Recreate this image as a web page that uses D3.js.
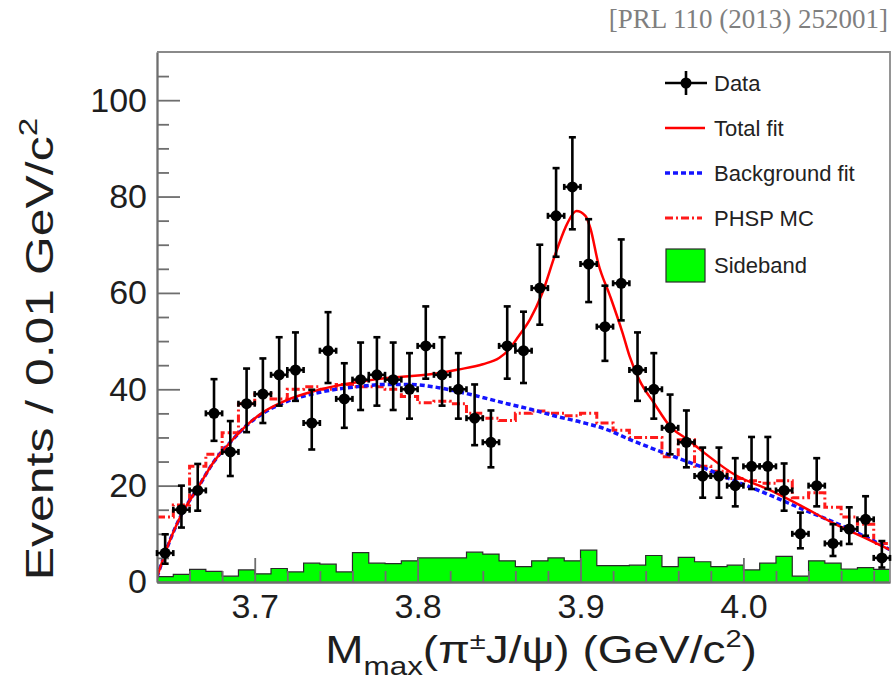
<!DOCTYPE html>
<html>
<head>
<meta charset="utf-8">
<script src="https://cdn.jsdelivr.net/npm/d3@7"></script>
<style>
  body { margin: 0; background: #fff; }
  text { font-family: "Liberation Sans", Arial, Helvetica, sans-serif; }
</style>
</head>
<body>
<div id="container"></div>
<script>
/* CONSTANTS AND GLOBALS */
const width = 892,
  height = 684;
const plotLeft = 157, plotRight = 890, plotTop = 52, plotBottom = 582;
const binWidth = 0.01;

/* DATA */
const massBins = [3.645, 3.655, 3.665, 3.675, 3.685, 3.695, 3.705, 3.715, 3.725, 3.735,
  3.745, 3.755, 3.765, 3.775, 3.785, 3.795, 3.805, 3.815, 3.825, 3.835,
  3.845, 3.855, 3.865, 3.875, 3.885, 3.895, 3.905, 3.915, 3.925, 3.935,
  3.945, 3.955, 3.965, 3.975, 3.985, 3.995, 4.005, 4.015, 4.025, 4.035,
  4.045, 4.055, 4.065, 4.075, 4.085];
const events = [6, 15, 19, 35, 27, 37, 39, 43, 44, 33,
  48, 38, 42, 43, 42, 40, 49, 43, 40, 34,
  29, 49, 48, 61, 76, 82, 66, 53, 62, 44,
  40, 32, 29, 22, 22, 20, 24, 24, 19, 10,
  20, 8, 11, 13, 5];
const errUp = [3.9, 5.0, 5.5, 7.1, 6.4, 7.3, 7.4, 7.8, 7.8, 6.9,
  8.0, 7.4, 7.7, 7.8, 7.7, 7.5, 8.2, 7.8, 7.5, 7.0,
  6.6, 8.2, 8.1, 9.0, 9.9, 10.3, 9.3, 8.5, 9.1, 7.8,
  7.5, 6.9, 6.6, 5.9, 5.9, 5.7, 6.1, 6.1, 5.6, 4.4,
  5.7, 4.0, 4.5, 4.8, 3.5];
const errDown = [2.2, 3.7, 4.2, 5.7, 5.0, 5.9, 6.0, 6.4, 6.4, 5.5,
  6.7, 6.0, 6.3, 6.4, 6.3, 6.1, 6.8, 6.4, 6.1, 5.6,
  5.2, 6.8, 6.7, 7.6, 8.5, 8.8, 7.9, 7.1, 7.7, 6.4,
  6.1, 5.5, 5.2, 4.5, 4.5, 4.3, 4.7, 4.7, 4.2, 3.0,
  4.3, 2.6, 3.1, 3.4, 2.0];
const sideband = [1.1, 1.6, 2.6, 2.2, 1.2, 2.5, 1.7, 2.8, 2.1, 3.9,
  3.7, 2.1, 6.1, 3.9, 3.8, 4.4, 5.0, 5.0, 5.0, 6.2,
  5.8, 4.4, 3.2, 4.4, 5.0, 4.4, 6.6, 3.4, 3.4, 3.5,
  5.5, 3.2, 5.1, 4.2, 3.2, 3.5, 2.5, 3.9, 5.3, 1.2,
  4.4, 3.9, 2.7, 3.0, 2.6];
const phspMC = [13.5, 16, 24, 26.5, 31, 37, 39, 38, 40, 40.5,
  40, 41, 40.5, 40.5, 40, 38.5, 37.2, 37.5, 37, 35,
  34, 33.5, 35, 35.5, 35, 34.5, 35, 33, 31.5, 30,
  30, 26, 29.5, 24, 23, 21.5, 21, 20.5, 21, 17.5,
  18.5, 15.5, 13.5, 12, 8];
const bgMass = [3.640, 3.645, 3.655, 3.665, 3.675, 3.685, 3.695, 3.705, 3.72, 3.735,
  3.75, 3.765, 3.78, 3.795, 3.81, 3.825, 3.84, 3.855, 3.87, 3.885,
  3.90, 3.915, 3.93, 3.945, 3.96, 3.975, 3.99, 4.005, 4.02, 4.035,
  4.05, 4.065, 4.08, 4.09];
const bgFit = [1, 6, 14, 19.5, 25, 29, 32.5, 35, 37.5, 39,
  40, 40.6, 41, 41, 40.5, 39.5, 38.3, 37, 35.8, 34.4,
  33.2, 31.8, 29.6, 27.6, 25.7, 23.8, 21.6, 19.6, 17.5, 15.3,
  13.2, 11, 8.5, 6.7];
const totalMass = [3.640, 3.645, 3.655, 3.665, 3.675, 3.685, 3.695, 3.705, 3.72, 3.735,
  3.75, 3.765, 3.78, 3.795, 3.81, 3.825, 3.84, 3.85, 3.856, 3.862,
  3.869, 3.876, 3.885, 3.892, 3.8975, 3.903, 3.906, 3.911, 3.918, 3.926,
  3.93, 3.936, 3.945, 3.955, 3.966, 3.976, 3.995, 4.016, 4.036, 4.057,
  4.073, 4.09];
const totalFit = [1, 6, 14, 19.5, 25, 29, 32.5, 35.2, 37.8, 39.5,
  40.7, 41.6, 42.3, 42.7, 43.2, 44.1, 45.2, 46.5, 48.2, 51,
  54.5, 59.5, 68.5, 74.5, 77, 76, 73.5, 66, 59.5, 51.5,
  47, 42, 37.2, 32.3, 29.5, 26.8, 22.2, 19.1, 15.7, 11.9,
  9.4, 6.7];

const yTicks = [0, 20, 40, 60, 80, 100];
const yMinor = [5, 10, 15, 25, 30, 35, 45, 50, 55, 65, 70, 75, 85, 90, 95, 105];
const xTicks = [3.7, 3.8, 3.9, 4.0];
const xMinor = [3.66, 3.68, 3.72, 3.74, 3.76, 3.78, 3.82, 3.84, 3.86, 3.88,
  3.92, 3.94, 3.96, 3.98, 4.02, 4.04, 4.06, 4.08];
const legendLabels = ["Data", "Total fit", "Background fit", "PHSP MC", "Sideband"];

// SCALES
const xScale = d3.scaleLinear()
  .domain([3.64, 4.09])
  .range([plotLeft, plotRight]);

const yScale = d3.scaleLinear()
  .domain([0, 110])
  .range([plotBottom, plotTop]);

// CREATE SVG ELEMENT
const svg = d3.select("#container")
  .append("svg")
  .attr("width", width)
  .attr("height", height);

svg.append("clipPath").attr("id", "plotClip")
  .append("rect")
  .attr("x", plotLeft).attr("y", plotTop)
  .attr("width", plotRight - plotLeft).attr("height", plotBottom - plotTop);

// reference in the corner
svg.append("text")
  .attr("x", 888).attr("y", 28)
  .attr("text-anchor", "end")
  .style("font-family", '"Liberation Serif", "Times New Roman", serif')
  .style("font-size", "27px")
  .attr("fill", "#7f7f7f")
  .text("[PRL 110 (2013) 252001]");

// step points: each bin edge plus the closing edge
const stepPoints = vals => {
  const pts = massBins.map((m, i) => [m - binWidth / 2, vals[i]]);
  pts.push([massBins[massBins.length - 1] + binWidth / 2, vals[vals.length - 1]]);
  return pts;
};

const plot = svg.append("g").attr("clip-path", "url(#plotClip)");

// SIDEBAND HISTOGRAM
const sideArea = d3.area()
  .x(d => xScale(d[0]))
  .y0(yScale(0))
  .y1(d => yScale(d[1]))
  .curve(d3.curveStepAfter);

plot.append("path")
  .attr("d", sideArea(stepPoints(sideband)))
  .attr("fill", "#00ff00")
  .attr("stroke", "none");

const stepLine = d3.line()
  .x(d => xScale(d[0]))
  .y(d => yScale(d[1]))
  .curve(d3.curveStepAfter);

plot.append("path")
  .attr("d", stepLine(stepPoints(sideband)))
  .attr("fill", "none")
  .attr("stroke", "#2a2a2a")
  .attr("stroke-width", 1.2);

// PHSP MC
plot.append("path")
  .attr("d", stepLine(stepPoints(phspMC)))
  .attr("fill", "none")
  .attr("stroke", "#ff1a1a")
  .attr("stroke-width", 3)
  .attr("stroke-dasharray", "8,3,2,3");

// FIT CURVES
const fitLine = d3.line()
  .x(d => xScale(d[0]))
  .y(d => yScale(d[1]))
  .curve(d3.curveMonotoneX);

plot.append("path")
  .attr("d", fitLine(bgMass.map((m, i) => [m, bgFit[i]])))
  .attr("fill", "none")
  .attr("stroke", "#1414ff")
  .attr("stroke-width", 3.5)
  .attr("stroke-dasharray", "5,3");

plot.append("path")
  .attr("d", fitLine(totalMass.map((m, i) => [m, totalFit[i]])))
  .attr("fill", "none")
  .attr("stroke", "#ff0000")
  .attr("stroke-width", 2.5);

// AXES
const axisColor = "#6e6e6e";
const styleAxis = g => {
  g.selectAll("path, line").attr("stroke", axisColor).attr("stroke-width", 1.8);
  g.selectAll("text").attr("fill", "#1e1e1e").style("font-size", "34px")
    .style("font-family", '"Liberation Sans", Arial, sans-serif');
};

svg.append("g")
  .attr("transform", `translate(0, ${plotBottom})`)
  .call(d3.axisBottom(xScale).tickValues(xMinor).tickSizeInner(-11).tickSizeOuter(0).tickFormat(""))
  .call(styleAxis);

svg.append("g")
  .attr("transform", `translate(0, ${plotBottom})`)
  .call(d3.axisBottom(xScale).tickValues(xTicks).tickSizeInner(-24).tickSizeOuter(0)
    .tickPadding(12).tickFormat(d3.format(".1f")))
  .call(styleAxis);

svg.append("g")
  .attr("transform", `translate(${plotLeft}, 0)`)
  .call(d3.axisLeft(yScale).tickValues(yMinor).tickSizeInner(-12).tickSizeOuter(0).tickFormat(""))
  .call(styleAxis);

svg.append("g")
  .attr("transform", `translate(${plotLeft}, 0)`)
  .call(d3.axisLeft(yScale).tickValues(yTicks).tickSizeInner(-23).tickSizeOuter(0).tickPadding(10))
  .call(styleAxis);

// frame top / right
svg.append("path")
  .attr("d", `M${plotLeft},${plotTop}H${plotRight}V${plotBottom}`)
  .attr("fill", "none")
  .attr("stroke", "#8a8a8a")
  .attr("stroke-width", 1.8);

// DATA POINTS
const half = xScale(3.64 + binWidth / 2) - xScale(3.64);
const pts = svg.append("g")
  .selectAll("g")
  .data(massBins.map((m, i) => ({ m, n: events[i], up: errUp[i], dn: errDown[i] })))
  .join("g")
  .attr("transform", d => `translate(${xScale(d.m)}, ${yScale(d.n)})`)
  .attr("stroke", "#000")
  .attr("stroke-width", 2.6);

pts.append("line")
  .attr("y1", d => yScale(d.n + d.up) - yScale(d.n))
  .attr("y2", d => Math.min(yScale(d.n - d.dn), plotBottom) - yScale(d.n));
pts.append("line").attr("x1", -half).attr("x2", half);
pts.append("line").attr("x1", -3.5).attr("x2", 3.5)
  .attr("y1", d => yScale(d.n + d.up) - yScale(d.n))
  .attr("y2", d => yScale(d.n + d.up) - yScale(d.n));
pts.append("line").attr("x1", -3.5).attr("x2", 3.5)
  .attr("y1", d => yScale(d.n - d.dn) - yScale(d.n))
  .attr("y2", d => yScale(d.n - d.dn) - yScale(d.n));
pts.append("line").attr("x1", -half).attr("x2", -half).attr("y1", -3).attr("y2", 3);
pts.append("line").attr("x1", half).attr("x2", half).attr("y1", -3).attr("y2", 3);
pts.append("circle").attr("r", 5.5).attr("fill", "#000").attr("stroke", "none");

// AXIS TITLES
const xTitle = svg.append("text")
  .attr("transform", "translate(541, 663) scale(1.21, 1)")
  .attr("text-anchor", "middle")
  .attr("fill", "#1e1e1e")
  .style("font-size", "38px");
xTitle.append("tspan").text("M");
xTitle.append("tspan").attr("dy", 12).style("font-size", "26px").text("max");
xTitle.append("tspan").attr("dy", -12).text("(π");
xTitle.append("tspan").attr("dy", -14).style("font-size", "24px").text("±");
xTitle.append("tspan").attr("dy", 14).text("J/ψ) (GeV/c");
xTitle.append("tspan").attr("dy", -16).style("font-size", "24px").text("2");
xTitle.append("tspan").attr("dy", 16).text(")");

const yTitle = svg.append("text")
  .attr("transform", "translate(53, 349) rotate(-90) scale(1.28, 1)")
  .attr("text-anchor", "middle")
  .attr("fill", "#1e1e1e")
  .style("font-size", "39px");
yTitle.append("tspan").text("Events / 0.01 GeV/c");
yTitle.append("tspan").attr("dy", -16).style("font-size", "26px").text("2");

// LEGEND
const legX = 665, legW = 40, legTextX = 714;
const legRows = [83, 128, 173, 218, 265];
const legend = svg.append("g");

legend.append("line").attr("x1", legX).attr("x2", legX + 42).attr("y1", legRows[0]).attr("y2", legRows[0])
  .attr("stroke", "#000").attr("stroke-width", 2.6);
legend.append("line").attr("x1", legX + 21).attr("x2", legX + 21).attr("y1", legRows[0] - 12).attr("y2", legRows[0] + 12)
  .attr("stroke", "#000").attr("stroke-width", 2.6);
legend.append("circle").attr("cx", legX + 21).attr("cy", legRows[0]).attr("r", 5.5).attr("fill", "#000");

legend.append("line").attr("x1", legX).attr("x2", legX + legW).attr("y1", legRows[1]).attr("y2", legRows[1])
  .attr("stroke", "#ff0000").attr("stroke-width", 2.5);
legend.append("line").attr("x1", legX).attr("x2", legX + 37).attr("y1", legRows[2]).attr("y2", legRows[2])
  .attr("stroke", "#1414ff").attr("stroke-width", 3.5).attr("stroke-dasharray", "5,3");
legend.append("line").attr("x1", legX).attr("x2", legX + 37).attr("y1", legRows[3]).attr("y2", legRows[3])
  .attr("stroke", "#ff1a1a").attr("stroke-width", 3).attr("stroke-dasharray", "8,3,2,3");
legend.append("rect").attr("x", legX + 1).attr("y", legRows[4] - 16).attr("width", 39).attr("height", 33)
  .attr("fill", "#00ff00").attr("stroke", "#2a2a2a").attr("stroke-width", 1.2);

legend.selectAll("text.leg")
  .data(legendLabels)
  .join("text")
  .attr("class", "leg")
  .attr("x", legTextX)
  .attr("y", (d, i) => legRows[i])
  .attr("dy", "0.36em")
  .attr("fill", "#222")
  .style("font-size", "22px")
  .text(d => d);
</script>
</body>
</html>
